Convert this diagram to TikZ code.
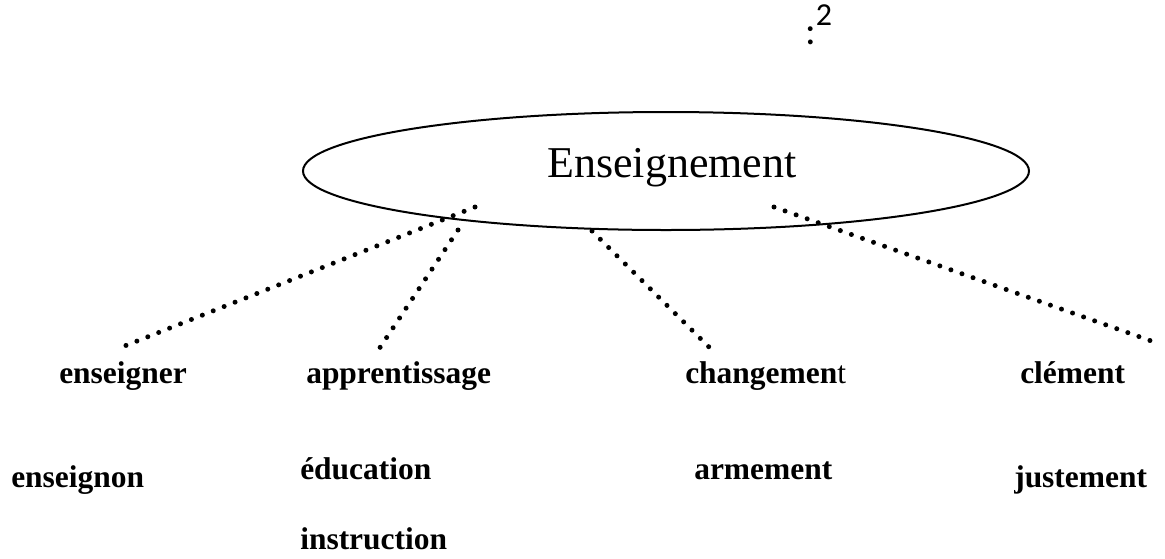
\documentclass[tikz,border=0pt]{standalone}
\usepackage{fontspec}
\setmainfont{Liberation Serif}
\newfontfamily\calib{Carlito}
\usetikzlibrary{shapes.geometric}
\begin{document}
\begin{tikzpicture}[x=0.75pt,y=-0.75pt,
  oval/.style={draw, ellipse, line width=1.5pt, minimum width=544.5pt, minimum height=88.5pt, inner sep=0pt},
  dotline/.style={line width=3.75pt, line cap=round, dash pattern=on 0pt off 8.8pt},
  word/.style={anchor=base west, inner sep=0pt, font=\fontsize{23.6pt}{26pt}\selectfont\bfseries},
  title/.style={anchor=base west, inner sep=0pt, font=\fontsize{33pt}{36pt}\selectfont}]
\useasboundingbox (0,0) rectangle (1165,558);
% header mark
\node[anchor=base west, inner sep=0pt] (mark) at (805,44)
  {\calib\fontsize{30pt}{30pt}\selectfont :\raisebox{14.25pt}{\fontsize{24pt}{24pt}\selectfont 2}};
% central oval
\node[oval] (ens) at (666,171) {};
\node[title] (enstext) at (547,177) {Enseignement};
% labels
\node[word] (w1) at (59,383) {enseigner};
\node[word] (w2) at (306,383) {apprentissage};
\node[word] (w3) at (685,383) {changemen{\mdseries t}};
\node[word] (w4) at (1020,383) {clément};
\node[word] (w5) at (11,487) {enseignon};
\node[word] (w6) at (300,479) {éducation};
\node[word] (w7) at (300,549) {instruction};
\node[word] (w8) at (694,479) {armement};
\node[word] (w9) at (1014,487) {justement};
% connector ends
\coordinate (a1) at (475,207);
\coordinate (b1) at (117,349);
\coordinate (a2) at (458,230);
\coordinate (b2) at (377,352);
\coordinate (a3) at (592,231);
\coordinate (b3) at (712,350);
\coordinate (a4) at (774,207);
\coordinate (b4) at (1157,343);
\draw[dotline] (a1) -- (b1);
\draw[dotline] (a2) -- (b2);
\draw[dotline] (a3) -- (b3);
\draw[dotline] (a4) -- (b4);
\end{tikzpicture}
\end{document}
